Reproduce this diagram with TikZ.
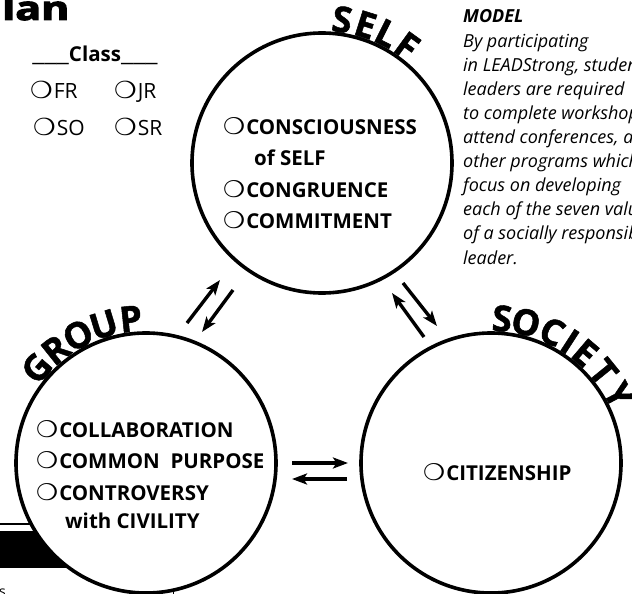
\documentclass[tikz,border=0pt]{standalone}
\usepackage{fontspec}
\usepackage{graphicx}
\setmainfont{Open Sans}
\newfontfamily\heavyfont{Open Sans}[BoldFeatures={FakeBold=1.4}]
\newfontfamily\blackfont{Open Sans}[BoldFeatures={FakeBold=3}]
\newfontfamily\dingfont{DejaVu Sans}
\usetikzlibrary{arrows.meta}
\newcommand\optbox{\scalebox{1.2}[1.12]{\dingfont\char"274D}\kern1pt}
\newcommand\blanks{\scalebox{1.45}[1]{\_\_\_}}
\tikzset{
  ring/.style={circle, draw, line width=3.6pt, fill=white, minimum size=260pt, inner sep=0pt},
  arr/.style={line width=3.4pt, -{Stealth[length=15pt,width=11pt,inset=3.5pt]}},
  item/.style={anchor=base west, inner sep=0pt, font=\fontsize{20.5}{24}\selectfont\bfseries},
  clsitem/.style={anchor=base west, inner sep=0pt, font=\fontsize{21}{24}\selectfont},
  arcl/.style={anchor=base, inner sep=0pt, font=\fontsize{36}{40}\selectfont\heavyfont\bfseries},
  mtxt/.style={anchor=base west, inner sep=0pt, font=\fontsize{18}{20}\selectfont\itshape},
}
\begin{document}
\begin{tikzpicture}[x=1pt,y=1pt]
\useasboundingbox (0,-594) rectangle (632,0);
\clip (0,-594) rectangle (632,0);
% bottom-left band
\draw[line width=1.6pt] (0,-524) -- (60,-524);
\fill (0,-531) rectangle (120,-568);
\draw[line width=1pt] (173,-589) -- (173,-600);
\node[anchor=base west, inner sep=0pt, font=\fontsize{14}{16}\selectfont] (sfrag) at (-1,-596) {s};
% circles
\node[ring] (self) at (322,-163) {};
\node[ring] (group) at (146,-463) {};
\node[ring] (society) at (491,-463) {};
% arrows
\coordinate (a1) at (187,-323); \coordinate (a2) at (220,-280);
\coordinate (b1) at (233,-290); \coordinate (b2) at (202,-332);
\coordinate (c1) at (424,-337); \coordinate (c2) at (392,-293);
\coordinate (d1) at (403,-283); \coordinate (d2) at (437,-326);
\coordinate (e1) at (292,-463); \coordinate (e2) at (348,-463);
\coordinate (f1) at (347,-479); \coordinate (f2) at (292,-479);
\draw[arr] (a1) -- (a2);
\draw[arr] (b1) -- (b2);
\draw[arr] (c1) -- (c2);
\draw[arr] (d1) -- (d2);
\draw[arr] (e1) -- (e2);
\draw[arr] (f1) -- (f2);
% curved titles
\foreach \l/\a [count=\i] in {S/82,E/72.5,L/63.5,F/54}
  \node[arcl, rotate=\a-90, name=selfl\i] at ([shift={(\a:132)}]self.center) {\l};
\foreach \l/\a [count=\i] in {G/139,R/128.6,O/118,U/107,P/96}
  \node[arcl, rotate=\a-90, name=groupl\i] at ([shift={(\a:132)}]group.center) {\l};
\foreach \l/\a [count=\i] in {S/85.6,O/76,C/65,I/57,E/49.5,T/39,Y/28}
  \node[arcl, rotate=\a-90, name=socl\i] at ([shift={(\a:132)}]society.center) {\l};
% title fragment
\node[anchor=base west, inner sep=0pt, font=\fontsize{33}{36}\selectfont\blackfont\bfseries] (title) at (2,-20) {\scalebox{1.3}[1]{lan}};
% class
\node[anchor=base, inner sep=0pt, font=\fontsize{20.5}{22}\selectfont\bfseries] (cls) at (95,-62) {\blanks Class\blanks};
\node[clsitem] (fr) at (30,-99) {\optbox FR};
\node[clsitem] (jr) at (114,-99) {\optbox JR};
\node[clsitem] (so) at (33,-135) {\optbox SO};
\node[clsitem] (sr) at (114,-135) {\optbox SR};
% SELF values
\node[item] (s1) at (223,-134) {\optbox CONSCIOUSNESS};
\node[item] (s2) at (254,-165) {of SELF};
\node[item] (s3) at (223,-197) {\optbox CONGRUENCE};
\node[item] (s4) at (223,-228) {\optbox COMMITMENT};
% GROUP values
\node[item] (g1) at (36,-437) {\optbox COLLABORATION};
\node[item] (g2) at (36,-468) {\optbox COMMON\ \ PURPOSE};
\node[item] (g3) at (36,-500) {\optbox CONTROVERSY};
\node[item] (g4) at (65,-528) {with CIVILITY};
% SOCIETY values
\node[item] (c1t) at (423,-480) {\optbox CITIZENSHIP};
% model text
\node[mtxt, font=\fontsize{18}{20}\selectfont\bfseries\itshape] (m0) at (463,-23) {MODEL};
\foreach \t [count=\i] in {By participating, {in LEADStrong, student}, leaders are required,
  {to complete workshops,}, {attend conferences, and}, other programs which,
  focus on developing, each of the seven values, of a socially responsible, leader.}
  \node[mtxt, name=m\i] at (463,-23-24.1*\i) {\t};
\end{tikzpicture}
\end{document}
